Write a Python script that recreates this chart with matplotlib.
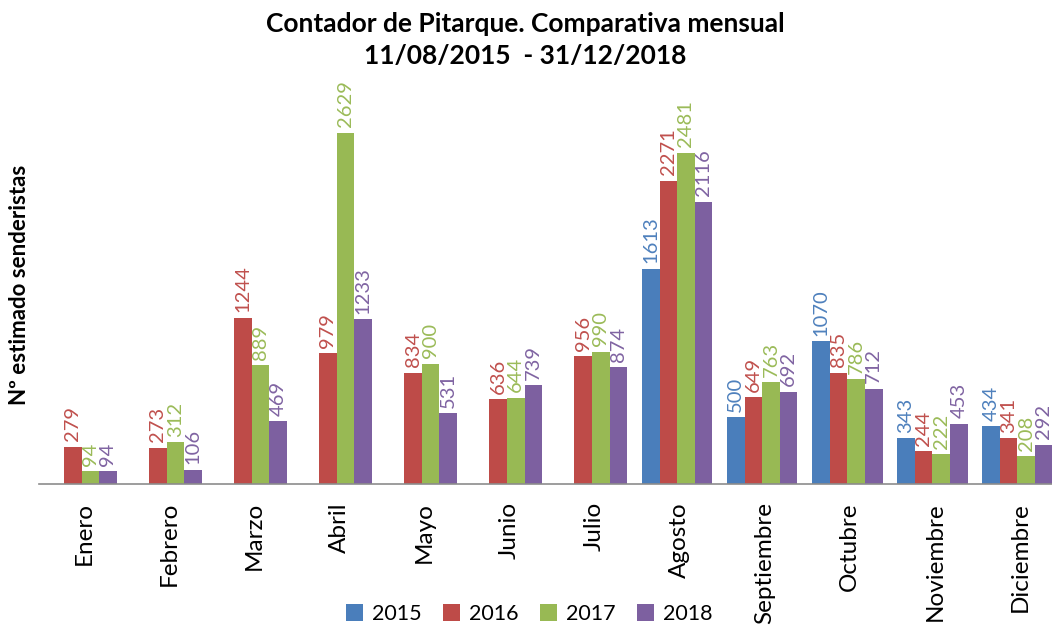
import numpy as np
import matplotlib

matplotlib.use("Agg")
import matplotlib.pyplot as plt  # noqa: E402

plt.rcParams["font.family"] = ["Lato", "DejaVu Sans"]

MONTHS = ["Enero", "Febrero", "Marzo", "Abril", "Mayo", "Junio", "Julio", "Agosto",
          "Septiembre", "Octubre", "Noviembre", "Diciembre"]
YEARS = ["2015", "2016", "2017", "2018"]
V2015 = [None, None, None, None, None, None, None, 1613, 500, 1070, 343, 434]
V2016 = [279, 273, 1244, 979, 834, 636, 956, 2271, 649, 835, 244, 341]
V2017 = [94, 312, 889, 2629, 900, 644, 990, 2481, 763, 786, 222, 208]
V2018 = [94, 106, 469, 1233, 531, 739, 874, 2116, 692, 712, 453, 292]
COLORS = ["#4a7ebb", "#be4b48", "#98b954", "#7d60a0"]
LABEL_COLORS = ["#4f81bd", "#c0504d", "#9bbb59", "#8064a2"]

W, H = 1052, 633
fig = plt.figure(figsize=(W / 100, H / 100), dpi=100)
# plot area runs past the right edge, like the cropped original
ax = fig.add_axes([39 / W, 149 / H, 1021 / W, 400.5 / H])
ax.set_xlim(-0.5, 11.5)
ax.set_ylim(0, 3000)

x = np.arange(len(MONTHS))
bw = 0.207
for k, (name, vals) in enumerate(zip(YEARS, [V2015, V2016, V2017, V2018])):
    xs = x + (k - 1.5) * bw
    h = [np.nan if v is None else v for v in vals]
    ax.bar(xs, h, width=bw, color=COLORS[k], label=name, linewidth=0)
    for xi, v in zip(xs, vals):
        if v is None:
            continue
        ax.annotate(str(v), (xi, v), xytext=(0, 4), textcoords="offset points",
                    rotation=90, ha="center", va="bottom", fontsize=14.5,
                    color=LABEL_COLORS[k])

for s in ["top", "right", "left"]:
    ax.spines[s].set_visible(False)
ax.spines["bottom"].set_color("#8c8c8c")
ax.spines["bottom"].set_linewidth(1.2)
ax.set_yticks([])
ax.set_xticks(x + 0.03)
ax.set_xticklabels(MONTHS, rotation=90, fontsize=17.5)
ax.tick_params(axis="x", length=0, pad=13)

fig.text(20 / W, 1 - 285 / H, "Nº estimado senderistas", rotation=90, ha="center",
         va="center", fontsize=16, fontweight="bold")
fig.text(525 / W, 1 - 24 / H, "Contador de Pitarque. Comparativa mensual",
         ha="center", va="center", fontsize=19, fontweight="bold")
fig.text(525 / W, 1 - 56 / H, "11/08/2015  - 31/12/2018",
         ha="center", va="center", fontsize=19, fontweight="bold")

fig.legend(loc="center", bbox_to_anchor=(529 / W, 1 - 614 / H), ncol=4, frameon=False,
           fontsize=15.5, handlelength=0.8, handleheight=0.8, handletextpad=0.4,
           columnspacing=1.0)

fig.savefig("out.png", dpi=100, facecolor="white")
